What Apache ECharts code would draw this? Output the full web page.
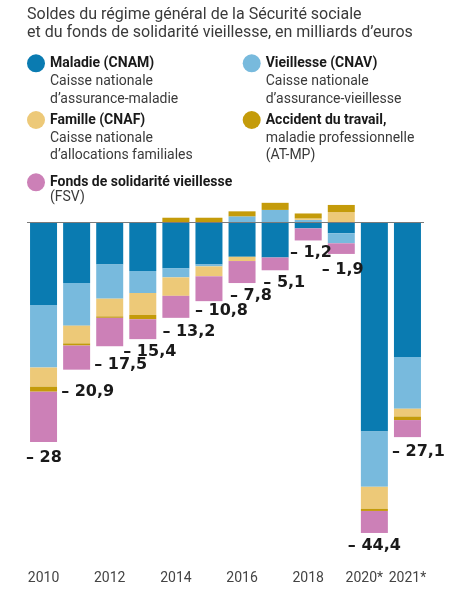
<!DOCTYPE html>
<html>
<head>
<meta charset="utf-8">
<script src="https://cdn.jsdelivr.net/npm/echarts@6/dist/echarts.min.js"></script>
<style>
html,body{margin:0;padding:0;background:#fff;}
#c{width:450px;height:597px;}
</style>
</head>
<body>
<div id="c"></div>
<script>
// ---- data (milliards d'euros) ----
const categories = ['2010','2011','2012','2013','2014','2015','2016','2017','2018','2019','2020*','2021*'];
const cnam = [-11.6,-8.5,-5.9,-6.8,-6.4,-5.9,-4.8,-4.9,-0.8,-1.5,-29.4,-18.9];
const cnav = [-8.8,-6.0,-4.8,-3.1,-1.3,-0.25,0.9,1.8,0.4,-1.4,-7.8,-7.3];
const cnaf = [-2.7,-2.5,-2.5,-3.1,-2.6,-1.4,-0.6,0,0.2,1.5,-3.1,-1.1];
const atmp = [-0.7,-0.3,-0.2,-0.6,0.7,0.7,0.7,1.0,0.7,1.0,-0.3,-0.5];
const fsv  = [-7.1,-3.4,-4.0,-2.8,-3.1,-3.5,-3.1,-1.8,-1.7,-1.5,-3.1,-2.4];
const totalLabels = ['– 28','– 20,9','– 17,5','– 15,4','– 13,2','– 10,8','– 7,8','– 5,1','– 1,2','– 1,9','– 44,4','– 27,1'];
const seriesNames = ['Maladie (CNAM)','Vieillesse (CNAV)','Famille (CNAF)','Accident du travail,','Fonds de solidarité vieillesse'];
const seriesNotes = [
  'Caisse nationale\nd\u2019assurance-maladie',
  'Caisse nationale\nd\u2019assurance-vieillesse',
  'Caisse nationale\nd\u2019allocations familiales',
  'maladie professionnelle\n(AT-MP)',
  '(FSV)'
];
const titleText = 'Soldes du régime général de la Sécurité sociale\net du fonds de solidarité vieillesse, en milliards d\u2019euros';

// ---- layout / style ----
const colors = ['#0a7bb1','#78badd','#edc978','#c49b0a','#cc80b7'];
const FONT = 'Roboto';
const legendPos = [[27,54.3],[242.7,54.3],[27,111],[242.7,111],[27,173.3]];
const notePos = [[50,73],[265.7,73],[50,129.5],[265.7,129.5],[50,189]];
const labelNudge = [[-2,2],[0,8],[0,5],[-4,-1],[2,0],[1.5,-4],[3.5,-1],[3.7,-1.5],[-2.7,-2],[-4,2],[0,-1],[0,1]];

const dataSets = [cnam, cnav, cnaf, atmp, fsv];

const series = dataSets.map((arr, si) => {
  const s = {
    name: seriesNames[si],
    type: 'bar',
    stack: 'total',
    barWidth: 27,
    itemStyle: {color: colors[si]},
    emphasis: {disabled: true},
    data: arr.map((v, i) => {
      const item = {value: v};
      if (si === 4) {
        const center = i === 10;
        item.label = {
          show: true,
          position: 'bottom',
          distance: 6,
          align: center ? 'center' : 'left',
          offset: [(center ? 0 : -15.5) + labelNudge[i][0], labelNudge[i][1]],
          formatter: () => totalLabels[i],
          fontFamily: 'DejaVu Sans',
          fontSize: 16,
          fontWeight: 'bold',
          color: '#1a1a1a'
        };
      }
      return item;
    })
  };
  if (si === 0) {
    s.markLine = {
      silent: true,
      symbol: 'none',
      label: {show: false},
      lineStyle: {color: '#7a7a7a', width: 1, type: 'solid'},
      data: [{yAxis: 0}],
      z: 10
    };
  }
  return s;
});

const legends = seriesNames.map((n, i) => ({
  data: [n],
  left: legendPos[i][0],
  top: legendPos[i][1],
  padding: 0,
  icon: 'circle',
  itemWidth: 18,
  itemHeight: 18,
  selectedMode: false,
  textStyle: {fontFamily: FONT, fontSize: 14, fontWeight: 'bold', color: '#1a1a1a'}
}));

const notes = seriesNotes.map((t, i) => ({
  type: 'text',
  left: notePos[i][0],
  top: notePos[i][1],
  style: {text: t, font: '14px ' + FONT, fill: '#3a3a3a', lineHeight: 17.6}
}));

const axisData = categories.map((c, i) => i === 10
  ? {value: c, textStyle: {padding: [0, 20, 0, 0]}}
  : c);

const chart = echarts.init(document.getElementById('c'), null, {renderer: 'canvas'});
chart.setOption({
  animation: false,
  backgroundColor: '#fff',
  title: {
    text: titleText,
    left: 27,
    top: 6,
    padding: 0,
    textStyle: {fontFamily: FONT, fontSize: 16, fontWeight: 'normal', color: '#3a3a3a', lineHeight: 18}
  },
  legend: legends,
  graphic: notes,
  grid: {left: 27, right: 26, top: 194.3, bottom: 33.5, containLabel: false},
  xAxis: {
    type: 'category',
    data: axisData,
    axisLine: {show: false, onZero: false},
    axisTick: {show: false},
    axisLabel: {
      interval: (i) => i % 2 === 0 || i >= 10,
      hideOverlap: false,
      margin: 8,
      fontFamily: FONT,
      fontSize: 14,
      color: '#444'
    }
  },
  yAxis: {
    type: 'value',
    min: -48,
    max: 4,
    show: false,
    splitLine: {show: false}
  },
  series: series
});
</script>
</body>
</html>
